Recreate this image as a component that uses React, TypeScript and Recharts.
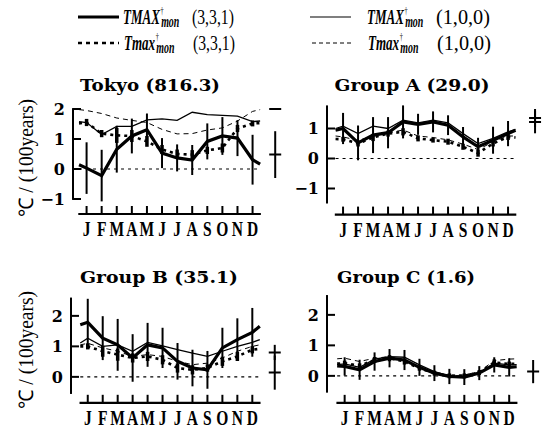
import React from 'react';
import { ComposedChart, Line, Scatter, XAxis, YAxis, ErrorBar, ReferenceLine } from 'recharts';

// ---------- categories / ticks ----------
const MONTHS = ['J', 'F', 'M', 'A', 'M', 'J', 'J', 'A', 'S', 'O', 'N', 'D'];
const MONTH_TICKS = [1, 2, 3, 4, 5, 6, 7, 8, 9, 10, 11, 12];
// line vertices: half a month before Jan, Jan..Dec, half a month after Dec
const LINE_POS = [0.5, 1, 2, 3, 4, 5, 6, 7, 8, 9, 10, 11, 12, 12.5];

// ---------- Tokyo (816.3) ----------
const TOKYO_TMAX331 = [0.14, 0.03, -0.22, 0.66, 1.1, 1.31, 0.53, 0.37, 0.3, 0.92, 1.1, 1.03, 0.31, 0.16];
const TOKYO_TMAX100 = [1.58, 1.55, 1.15, 1.42, 1.42, 1.64, 1.67, 1.62, 1.89, 1.81, 1.79, 1.76, 1.58, 1.6];
const TOKYO_TMAXL331 = [1.52, 1.55, 1.18, 1.12, 1.1, 0.92, 0.65, 0.5, 0.48, 0.62, 0.7, 1.35, 1.52, 1.53];
const TOKYO_TMAXL100 = [1.98, 1.95, 1.85, 1.7, 1.62, 1.55, 1.32, 1.17, 1.18, 1.3, 1.37, 1.6, 1.92, 1.98];
const TOKYO_ERR331 = [0.86, 0.86, 0.78, 0.58, 0.54, 0.5, 0.45, 0.5, 0.6, 0.63, 0.6, 0.83];
const TOKYO_ERRL331 = [0.12, 0.12, 0.25, 0.2, 0.18, 0.15, 0.15, 0.15, 0.12, 0.15, 0.12, 0.1];
const TOKYO_ANNUAL = [0.48, 2.0];
const TOKYO_ANNUAL_ERR = [0.78, 0];

// ---------- Group A (29.0) ----------
const A_TMAX331 = [0.94, 1.0, 0.52, 0.78, 0.86, 1.22, 1.14, 1.22, 1.11, 0.72, 0.39, 0.61, 0.83, 0.94];
const A_TMAX100 = [1.0, 1.08, 0.83, 1.08, 1.0, 1.28, 1.19, 1.28, 1.19, 0.83, 0.5, 0.67, 0.89, 0.97];
const A_TMAXL331 = [0.65, 0.64, 0.5, 0.7, 0.83, 0.89, 0.67, 0.61, 0.56, 0.39, 0.18, 0.5, 0.72, 0.7];
const A_TMAXL100 = [0.75, 0.72, 0.6, 0.75, 0.85, 0.95, 0.75, 0.7, 0.62, 0.48, 0.3, 0.55, 0.75, 0.75];
const A_ERR331 = [0.52, 0.58, 0.6, 0.52, 0.55, 0.35, 0.35, 0.33, 0.33, 0.3, 0.45, 0.42];
const A_ERRL331 = [0.08, 0.1, 0.12, 0.1, 0.12, 0.1, 0.08, 0.1, 0.1, 0.12, 0.1, 0.1];
const A_ANNUAL = [1.35, 1.22];
const A_ANNUAL_ERR = [0.3, 0.38];

// ---------- Group B (35.1) ----------
const B_TMAX331 = [1.71, 1.79, 1.27, 1.05, 0.62, 1.05, 0.95, 0.51, 0.29, 0.23, 0.95, 1.22, 1.46, 1.66];
const B_TMAX100 = [1.11, 1.27, 1.0, 1.05, 0.84, 1.13, 1.02, 0.89, 0.78, 0.67, 0.84, 1.0, 1.13, 1.22];
const B_TMAXL331 = [1.0, 1.0, 0.84, 0.73, 0.62, 0.67, 0.56, 0.29, 0.23, 0.29, 0.51, 0.67, 0.89, 0.92];
const B_TMAXL100 = [1.05, 1.1, 0.95, 0.84, 0.67, 0.73, 0.67, 0.51, 0.4, 0.45, 0.62, 0.84, 1.0, 1.05];
const B_ERR331 = [0.77, 0.72, 0.85, 0.78, 0.72, 0.66, 0.6, 0.6, 0.62, 0.66, 0.7, 0.8];
const B_ERRL331 = [0.1, 0.18, 0.2, 0.15, 0.15, 0.15, 0.15, 0.15, 0.12, 0.15, 0.15, 0.12];
const B_ANNUAL = [0.8, 0.14];
const B_ANNUAL_ERR = [0.25, 0.56];

// ---------- Group C (1.6) ----------
const C_TMAX331 = [0.33, 0.31, 0.2, 0.47, 0.58, 0.52, 0.28, 0.09, -0.02, -0.04, 0.09, 0.36, 0.28, 0.3];
const C_TMAX100 = [0.37, 0.39, 0.28, 0.55, 0.63, 0.61, 0.36, 0.14, 0.0, -0.02, 0.11, 0.42, 0.36, 0.37];
const C_TMAXL331 = [0.4, 0.42, 0.33, 0.52, 0.58, 0.47, 0.25, 0.09, 0.0, 0.0, 0.11, 0.44, 0.39, 0.4];
const C_TMAXL100 = [0.56, 0.58, 0.47, 0.58, 0.63, 0.5, 0.28, 0.11, 0.02, 0.03, 0.14, 0.5, 0.55, 0.56];
const C_ERR331 = [0.3, 0.33, 0.3, 0.3, 0.33, 0.28, 0.26, 0.25, 0.26, 0.23, 0.25, 0.3];
const C_ERRL331 = [0.08, 0.08, 0.1, 0.1, 0.1, 0.08, 0.08, 0.08, 0.08, 0.08, 0.1, 0.08];
const C_ANNUAL = [0.14];
const C_ANNUAL_ERR = [0.38];

const TICKS_TOKYO = [-1, 0, 1, 2];
const TICKS_A = [-1, 0, 1];
const TICKS_BC = [0, 1, 2];

// ---------- layout ----------
const YW = 40;
const XH = 26;
const MT = 12;
const SERIF = '"Liberation Serif", "Times New Roman", serif';
const SLAB = '"DejaVu Serif", serif';

type Spec = {
  title: string;
  titleX: number;
  titleY: number;
  titleW: number;
  axisX: number;
  plotTop: number;
  pxMonth: number;
  pxUnit: number;
  xDomain: [number, number];
  yDomain: [number, number];
  yAxisRange: [number, number];
  yTicks: number[];
  annualX: number;
  tmax331: number[];
  tmax100: number[];
  tmaxl331: number[];
  tmaxl100: number[];
  err331: number[];
  errl331: number[];
  annual: number[];
  annualErr: number[];
};

const PANELS: Spec[] = [
  {
    title: 'Tokyo (816.3)', titleX: 150, titleY: 91, titleW: 140,
    axisX: 72.7, plotTop: 103, pxMonth: 15.09, pxUnit: 30,
    xDomain: [0.1, 14], yDomain: [-1.5, 2.2], yAxisRange: [-1.03, 2.03], yTicks: TICKS_TOKYO,
    annualX: 13.5,
    tmax331: TOKYO_TMAX331, tmax100: TOKYO_TMAX100, tmaxl331: TOKYO_TMAXL331, tmaxl100: TOKYO_TMAXL100,
    err331: TOKYO_ERR331, errl331: TOKYO_ERRL331, annual: TOKYO_ANNUAL, annualErr: TOKYO_ANNUAL_ERR,
  },
  {
    title: 'Group A (29.0)', titleX: 412, titleY: 91, titleW: 155,
    axisX: 327, plotTop: 102.5, pxMonth: 15, pxUnit: 30,
    xDomain: [-0.07, 14.3], yDomain: [-1.87, 1.85], yAxisRange: [-1.5, 1.77], yTicks: TICKS_A,
    annualX: 13.8,
    tmax331: A_TMAX331, tmax100: A_TMAX100, tmaxl331: A_TMAXL331, tmaxl100: A_TMAXL100,
    err331: A_ERR331, errl331: A_ERRL331, annual: A_ANNUAL, annualErr: A_ANNUAL_ERR,
  },
  {
    title: 'Group B (35.1)', titleX: 159, titleY: 283, titleW: 158,
    axisX: 71.2, plotTop: 293.1, pxMonth: 14.96, pxUnit: 30.5,
    xDomain: [-0.12, 14], yDomain: [-0.85, 2.75], yAxisRange: [-0.56, 2.6], yTicks: TICKS_BC,
    annualX: 13.5,
    tmax331: B_TMAX331, tmax100: B_TMAX100, tmaxl331: B_TMAXL331, tmaxl100: B_TMAXL100,
    err331: B_ERR331, errl331: B_ERRL331, annual: B_ANNUAL, annualErr: B_ANNUAL_ERR,
  },
  {
    title: 'Group C (1.6)', titleX: 406, titleY: 283, titleW: 138,
    axisX: 327, plotTop: 292.1, pxMonth: 14.96, pxUnit: 30.5,
    xDomain: [-0.18, 14.2], yDomain: [-0.885, 2.75], yAxisRange: [-0.55, 2.65], yTicks: TICKS_BC,
    annualX: 13.6,
    tmax331: C_TMAX331, tmax100: C_TMAX100, tmaxl331: C_TMAXL331, tmaxl100: C_TMAXL100,
    err331: C_ERR331, errl331: C_ERRL331, annual: C_ANNUAL, annualErr: C_ANNUAL_ERR,
  },
];

const XTick = (props: any) => {
  const { x, y, payload } = props;
  return (
    <g>
      <line x1={x} x2={x} y1={y} y2={y - 8} stroke="#000" strokeWidth={2} />
      <text
        transform={`translate(${x},${y + 22}) scale(0.74,1)`}
        textAnchor="middle"
        fontFamily={SERIF}
        fontWeight="bold"
        fontSize={21}
        fill="#000"
      >
        {MONTHS[payload.value - 1]}
      </text>
    </g>
  );
};

const YTick = (props: any) => {
  const { x, y, payload } = props;
  const v = payload.value;
  return (
    <g>
      <line x1={x} x2={x + 8} y1={y} y2={y} stroke="#000" strokeWidth={2} />
      <text x={x - 8} y={y + 6} textAnchor="end" fontFamily={SLAB} fontWeight="bold" fontSize={16} fill="#000">
        {v < 0 ? `\u2212${Math.abs(v)}` : String(v)}
      </text>
    </g>
  );
};

const NoShape = () => <g />;
const DashShape = (p: any) => (
  <line x1={p.cx - 6} x2={p.cx + 6} y1={p.cy} y2={p.cy} stroke="#000" strokeWidth={2} />
);

function Panel({ s }: { s: Spec }) {
  const rows = LINE_POS.map((m, i) => ({
    m,
    bold: s.tmax331[i],
    thin: s.tmax100[i],
    dot: s.tmaxl331[i],
    dash: s.tmaxl100[i],
  }));
  const monthRows = MONTH_TICKS.map((m, i) => ({
    m,
    bold: s.tmax331[i + 1],
    boldErr: s.err331[i],
    dot: s.tmaxl331[i + 1],
    dotErr: s.errl331[i],
  }));
  const annualRows = s.annual.map((v, i) => ({ m: s.annualX, ann: v, annErr: s.annualErr[i] }));
  const plotW = (s.xDomain[1] - s.xDomain[0]) * s.pxMonth;
  const plotH = (s.yDomain[1] - s.yDomain[0]) * s.pxUnit;
  return (
    <div style={{ position: 'absolute', left: s.axisX - YW, top: s.plotTop - MT }}>
      <ComposedChart
        width={YW + plotW}
        height={plotH + XH + MT}
        data={rows}
        margin={{ top: MT, right: 0, bottom: 0, left: 0 }}
      >
        <XAxis
          type="number"
          dataKey="m"
          domain={s.xDomain}
          allowDataOverflow
          ticks={MONTH_TICKS}
          interval={0}
          axisLine={false}
          tickLine={false}
          tickSize={0}
          tickMargin={0}
          height={XH}
          tick={<XTick />}
        />
        <YAxis
          type="number"
          domain={s.yDomain}
          allowDataOverflow
          ticks={s.yTicks}
          interval={0}
          axisLine={false}
          tickLine={false}
          tickSize={0}
          tickMargin={0}
          width={YW}
          tick={<YTick />}
        />
        <ReferenceLine
          segment={[{ x: s.xDomain[0], y: s.yAxisRange[0] }, { x: s.xDomain[0], y: s.yAxisRange[1] }]}
          stroke="#000"
          strokeWidth={2}
          ifOverflow="visible"
        />
        <ReferenceLine
          segment={[{ x: 0.45, y: s.yDomain[0] }, { x: 12.55, y: s.yDomain[0] }]}
          stroke="#000"
          strokeWidth={2.2}
          ifOverflow="visible"
        />
        <ReferenceLine
          segment={[{ x: 0.5, y: 0 }, { x: 12.5, y: 0 }]}
          stroke="#000"
          strokeWidth={1.2}
          strokeDasharray="3 4"
          ifOverflow="visible"
        />
        <Line type="linear" dataKey="dash" stroke="#000" strokeWidth={1} strokeDasharray="5 4" dot={false} isAnimationActive={false} />
        <Line type="linear" dataKey="thin" stroke="#000" strokeWidth={1.3} dot={false} isAnimationActive={false} />
        <Line type="linear" dataKey="dot" stroke="#000" strokeWidth={2.6} strokeDasharray="3 4" dot={false} isAnimationActive={false} />
        <Line type="linear" dataKey="bold" stroke="#000" strokeWidth={3.2} dot={false} isAnimationActive={false} />
        <Scatter data={monthRows} dataKey="dot" shape={NoShape} isAnimationActive={false}>
          <ErrorBar dataKey="dotErr" direction="y" width={0} stroke="#000" strokeWidth={3.5} />
        </Scatter>
        <Scatter data={monthRows} dataKey="bold" shape={NoShape} isAnimationActive={false}>
          <ErrorBar dataKey="boldErr" direction="y" width={0} stroke="#000" strokeWidth={2} />
        </Scatter>
        <Scatter data={annualRows} dataKey="ann" shape={DashShape} isAnimationActive={false}>
          <ErrorBar dataKey="annErr" direction="y" width={0} stroke="#000" strokeWidth={2} />
        </Scatter>
      </ComposedChart>
    </div>
  );
}

function LegendRow({ y, x0, x1, dash, width, textX, name, params, paramW }: any) {
  return (
    <g>
      <line x1={x0} x2={x1} y1={y} y2={y} stroke="#000" strokeWidth={width} strokeDasharray={dash} />
      <text
        transform={`translate(${textX},${y + 7}) scale(0.62,1)`}
        fontFamily={SERIF}
        fontStyle="italic"
        fontWeight="bold"
        fontSize={21}
        fill="#000"
      >
        {name}
        <tspan dx={1} dy={-10} fontSize={10} fontStyle="normal" fontWeight="normal">{'\u2020'}</tspan>
        <tspan dx={-4} dy={13} fontSize={16}>mon</tspan>
      </text>
      <text x={textX + 69} y={y + 7} fontFamily={SERIF} fontSize={20}
        textLength={paramW} lengthAdjust="spacingAndGlyphs">{params}</text>
    </g>
  );
}

export default function App() {
  return (
    <div style={{ position: 'absolute', left: 0, top: 0, width: 551, height: 429, background: '#fff', overflow: 'hidden' }}>
      {PANELS.map((s) => (
        <Panel key={s.title} s={s} />
      ))}
      <svg width={551} height={429} style={{ position: 'absolute', left: 0, top: 0, pointerEvents: 'none' }}>
        <LegendRow y={17} x0={78} x1={119} width={3} textX={123} name="TMAX" params="(3,3,1)" paramW={42} />
        <LegendRow y={17} x0={310} x1={351} width={1.2} textX={367} name="TMAX" params="(1,0,0)" paramW={54} />
        <LegendRow y={43} x0={78} x1={119} width={2.6} dash="4 4" textX={124} name="Tmax" params="(3,3,1)" paramW={42} />
        <LegendRow y={43} x0={312} x1={351} width={1} dash="4 3" textX={368} name="Tmax" params="(1,0,0)" paramW={54} />
        {PANELS.map((s) => (
          <text key={s.title} x={s.titleX} y={s.titleY} textAnchor="middle" fontFamily={SLAB} fontWeight="bold"
            fontSize={17} textLength={s.titleW} lengthAdjust="spacingAndGlyphs">{s.title}</text>
        ))}
        <text transform="translate(33,158) rotate(-90)" textAnchor="middle" fontFamily={SERIF} fontSize={20}
          textLength={118} lengthAdjust="spacingAndGlyphs">{'\u2103 / (100years)'}</text>
        <text transform="translate(33,350) rotate(-90)" textAnchor="middle" fontFamily={SERIF} fontSize={20}
          textLength={118} lengthAdjust="spacingAndGlyphs">{'\u2103 / (100years)'}</text>
      </svg>
    </div>
  );
}
